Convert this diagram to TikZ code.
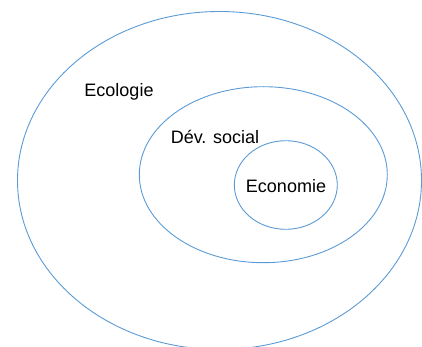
\documentclass[tikz,border=0pt]{standalone}
\usepackage{fontspec}
\setmainfont{Liberation Sans}
\usetikzlibrary{shapes.geometric}
\definecolor{ringblue}{RGB}{91,155,213}
\begin{document}
\begin{tikzpicture}[x=1pt,y=-1pt,
  ring/.style={draw=ringblue,line width=0.9pt,ellipse,inner sep=0pt,outer sep=0pt},
  lbl/.style={anchor=base,inner sep=0pt,font=\fontsize{18}{20}\selectfont}]
\useasboundingbox (0,0) rectangle (422,347);
\node[ring,minimum width=404pt,minimum height=338pt] (eco) at (219.5,180.5) {};
\node[ring,minimum width=248pt,minimum height=176pt] (soc) at (263.3,174.7) {};
\node[ring,minimum width=103pt,minimum height=88.6pt] (econ) at (285.8,185) {};
\node[lbl] (tEco) at (119,97) {Ecologie};
\node[lbl] (tSoc) at (215,144) {Dév. social};
\node[lbl] (tEcon) at (286,193) {Economie};
\end{tikzpicture}
\end{document}
